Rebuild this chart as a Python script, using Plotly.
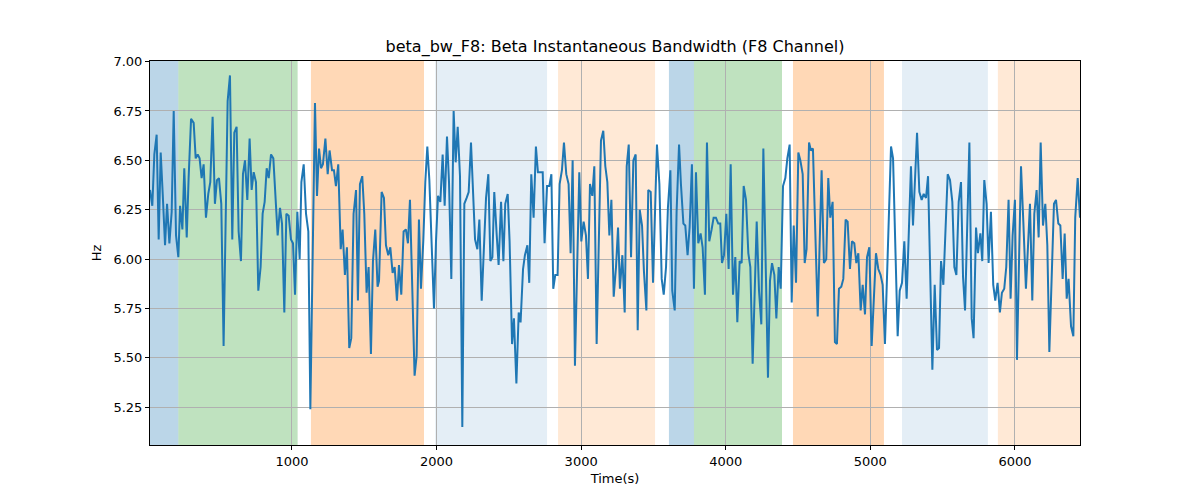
import plotly.graph_objects as go

times = [18, 34, 48, 64, 78, 92, 106, 122, 136, 152, 168, 182, 198, 214, 226, 242, 255, 272, 285, 302,
         320, 334, 348, 361, 375, 389, 405, 421, 435, 451, 467, 481, 495, 511, 527, 541, 555, 571, 587, 601,
         617, 631, 647, 661, 675, 691, 707, 721, 735, 751, 767,
         783, 797, 811, 825, 839, 855, 871, 885, 901, 917, 931, 947, 961, 977, 993, 1007, 1021, 1037, 1053, 1065,
         1081, 1097, 1113, 1127, 1159, 1173, 1187, 1201, 1214, 1231, 1247, 1260, 1277, 1290, 1304, 1320, 1337, 1350, 1366, 1380,
         1396, 1410, 1426, 1443, 1456, 1470, 1486, 1500, 1516, 1530, 1546, 1560, 1576, 1592,
         1602, 1620, 1636, 1650, 1666, 1680, 1696, 1710, 1726, 1740, 1756, 1772, 1788, 1802, 1816, 1832, 1848, 1862, 1878, 1892,
         1908, 1922, 1936, 1950, 1982, 1996, 2010, 2026, 2042, 2056, 2072, 2086, 2102, 2118, 2132, 2146, 2162, 2178, 2192, 2208,
         2222, 2238, 2252, 2266, 2282, 2296, 2312, 2325, 2342, 2358, 2372, 2386,
         2399, 2416, 2429, 2446, 2462, 2475, 2492, 2505, 2522, 2535, 2552, 2568, 2581, 2598, 2611, 2628, 2641, 2655, 2671, 2687,
         2701, 2717, 2734, 2747, 2764, 2780, 2794, 2807, 2821, 2837, 2851, 2867, 2881, 2897, 2913, 2927, 2941, 2957, 2987, 3001,
         3017, 3033, 3047, 3061, 3077, 3091, 3107, 3137, 3153, 3167, 3181, 3195,
         3209, 3225, 3241, 3255, 3268, 3285, 3301, 3315, 3329, 3345, 3361, 3377, 3391, 3405, 3421, 3434, 3451, 3464, 3481, 3497,
         3524, 3541, 3557, 3571, 3587, 3600, 3617, 3630, 3647, 3660, 3677, 3690, 3707, 3720, 3736, 3750, 3766, 3780, 3794, 3810,
         3826, 3840, 3856, 3870, 3886, 3902, 3916, 3932, 3948, 3962,
         3974, 3988, 4004, 4020, 4034, 4050, 4066, 4080, 4096, 4110, 4124, 4140, 4156, 4170, 4186, 4214, 4230, 4246, 4260, 4292,
         4306, 4320, 4336, 4350, 4366, 4380, 4396, 4412, 4426, 4442, 4456, 4470, 4486, 4502, 4516, 4532, 4546, 4559, 4576, 4589,
         4603, 4636, 4663, 4679, 4695, 4709, 4723, 4739, 4755, 4769,
         4783, 4799, 4813, 4829, 4843, 4859, 4873, 4889, 4903, 4917, 4933, 4947, 4963, 4977, 4993, 5009, 5039, 5055, 5071, 5085,
         5101, 5143, 5157, 5189, 5203, 5219, 5235, 5251, 5281, 5295, 5323, 5339, 5355, 5369, 5385, 5399, 5429, 5445, 5461, 5475,
         5489, 5505, 5535, 5551,
         5567, 5581, 5595, 5611, 5627, 5641, 5655, 5685, 5701, 5714, 5731, 5744, 5761, 5774, 5788, 5804, 5818, 5834, 5850, 5864,
         5880, 5896, 5910, 5926, 5940, 5956, 5970, 5984, 6000, 6014, 6042, 6058, 6076, 6090, 6104, 6120, 6134, 6150, 6164, 6178,
         6194, 6210, 6224, 6238, 6270, 6284, 6300, 6314, 6330, 6344, 6358, 6371, 6388, 6404, 6417, 6434, 6450]

values = [6.35, 6.27, 6.53, 6.63, 6.10, 6.54, 6.33, 6.07, 6.28, 6.08, 6.24, 6.75, 6.12, 6.01, 6.27, 6.15, 6.46, 6.11, 6.41, 6.71,
          6.69, 6.51, 6.53, 6.51, 6.41, 6.48, 6.21, 6.33, 6.39, 6.72, 6.28, 6.40, 6.41, 6.28, 5.56, 6.26, 6.80, 6.93, 6.10, 6.64,
          6.67, 6.14, 5.99, 6.43, 6.50, 6.30, 6.61, 6.35, 6.44, 6.39, 5.84,
          5.96, 6.23, 6.29, 6.46, 6.41, 6.53, 6.51, 6.33, 6.12, 6.26, 6.18, 5.73, 6.23, 6.22, 6.10, 6.08, 5.82, 6.24, 6.00, 6.39,
          6.48, 6.23, 6.14, 5.24, 6.79, 6.32, 6.56, 6.46, 6.48, 6.61, 6.43, 6.55, 6.45, 6.45, 6.37, 6.48, 6.05, 6.15, 5.92, 6.06,
          5.55, 5.60, 6.23, 6.35, 5.79, 6.38, 6.42, 6.23, 5.83, 5.96, 5.52, 5.99, 6.15, 5.86,
          5.89, 6.34, 6.31, 6.07, 6.02, 6.06, 5.93, 5.96, 5.79, 5.97, 5.82, 6.14, 6.15, 6.08, 6.30, 5.85, 5.41, 5.51, 6.20, 5.85,
          6.09, 6.39, 6.57, 6.40, 5.75, 6.09, 6.32, 6.29, 6.53, 6.27, 6.62, 6.39, 5.90, 6.75, 6.49, 6.67, 6.42, 5.15, 6.28, 6.31,
          6.34, 6.59, 6.36, 6.10, 6.05, 6.20, 5.79, 6.04, 6.31, 6.43, 5.99, 6.01,
          6.34, 6.12, 5.97, 6.29, 5.99, 6.28, 6.33, 6.09, 5.57, 5.70, 5.37, 5.73, 5.68, 5.95, 6.02, 6.07, 5.88, 6.43, 6.21, 6.57,
          6.44, 6.44, 6.44, 6.08, 6.37, 6.37, 6.43, 5.85, 5.92, 5.92, 6.38, 6.45, 6.59, 6.43, 6.38, 6.03, 6.50, 5.46, 6.44, 6.09,
          6.19, 6.12, 5.90, 6.38, 6.32, 6.47, 5.57, 6.60, 6.65, 6.47, 6.39, 6.12,
          6.30, 5.81, 5.96, 6.16, 5.85, 6.02, 5.73, 6.47, 6.58, 6.01, 6.50, 6.53, 5.64, 6.25, 6.17, 5.94, 5.74, 6.35, 6.34, 5.88,
          6.58, 6.38, 5.90, 5.82, 5.96, 6.26, 6.45, 5.84, 5.74, 6.24, 6.58, 6.38, 6.18, 6.17, 6.02, 6.16, 6.48, 5.85, 6.44, 6.08,
          6.13, 6.06, 5.82, 6.59, 6.09, 6.15, 6.21, 6.21, 6.18, 6.18,
          5.98, 6.02, 6.23, 5.95, 6.48, 5.82, 6.01, 5.68, 5.99, 5.98, 6.37, 6.30, 6.03, 5.96, 5.47, 6.19, 5.84, 5.67, 6.56, 5.40,
          5.89, 5.98, 5.92, 5.70, 5.96, 5.85, 6.37, 6.41, 6.51, 6.58, 5.78, 6.17, 5.88, 6.54, 6.50, 6.43, 5.98, 6.05, 6.59, 6.55,
          6.56, 5.71, 6.45, 5.98, 6.00, 6.41, 6.21, 6.29, 5.58, 5.57,
          5.85, 5.86, 5.90, 6.20, 6.19, 5.95, 6.09, 6.08, 5.98, 6.03, 5.74, 5.87, 5.72, 6.01, 6.06, 5.56, 6.03, 5.95, 5.92, 5.87,
          5.57, 6.57, 6.51, 5.61, 5.84, 5.88, 6.09, 5.80, 6.47, 6.17, 6.64, 6.34, 6.30, 6.33, 6.31, 6.42, 5.44, 5.87, 5.54, 5.55,
          5.99, 5.87, 6.43, 6.40,
          6.29, 5.96, 5.92, 6.29, 6.39, 5.91, 5.74, 6.59, 5.70, 5.60, 6.16, 6.03, 6.13, 5.99, 6.40, 6.28, 5.98, 6.24, 5.87, 5.79,
          5.88, 5.73, 5.83, 5.85, 5.96, 6.30, 5.80, 6.12, 6.30, 5.49, 6.47, 6.19, 5.85, 6.06, 6.28, 5.79, 6.23, 6.35, 6.11, 6.59,
          6.17, 6.28, 6.07, 5.53, 6.28, 6.30, 6.18, 6.17, 5.90, 6.13, 5.80, 5.90, 5.66, 5.61, 6.21, 6.41, 6.21]

# shaded segments: (start, end, color)
seg_starts = [18, 214, 1131, 1991, 2840, 3607, 3780, 4465, 5219, 5882]
seg_ends = [214, 1039, 1913, 2764, 3511, 3780, 4389, 5094, 5813, 6450]
seg_colors = ["rgba(31,119,180,0.3)", "rgba(44,160,44,0.3)", "rgba(255,127,14,0.3)",
              "rgba(31,119,180,0.12)", "rgba(255,127,14,0.17)",
              "rgba(31,119,180,0.3)", "rgba(44,160,44,0.3)", "rgba(255,127,14,0.3)",
              "rgba(31,119,180,0.12)", "rgba(255,127,14,0.17)"]

y_ticks = [5.25, 5.50, 5.75, 6.00, 6.25, 6.50, 6.75, 7.00]
x_ticks = [1000, 2000, 3000, 4000, 5000, 6000]

fig = go.Figure()
for s, e, c in zip(seg_starts, seg_ends, seg_colors):
    fig.add_vrect(x0=s, x1=e, fillcolor=c, line_width=0, layer="below")

fig.add_trace(go.Scatter(x=times, y=values, mode="lines",
                         line=dict(color="#1f77b4", width=2), showlegend=False))

font = "DejaVu Sans, Verdana, sans-serif"
fig.update_layout(
    width=1200, height=500,
    margin=dict(l=150, r=120, t=61, b=55),
    paper_bgcolor="white", plot_bgcolor="white",
    font=dict(family=font, size=13, color="black"),
    title=dict(text="beta_bw_F8: Beta Instantaneous Bandwidth (F8 Channel)",
               x=0.5125, xanchor="center", y=1 - 46 / 500, yanchor="middle",
               font=dict(size=16, family=font, color="black")),
)
fig.update_xaxes(range=[18, 6450], tickvals=x_ticks, ticktext=[str(v) for v in x_ticks],
                 showgrid=True, gridcolor="#b0b0b0", gridwidth=1,
                 showline=True, linecolor="black", linewidth=1, mirror=True,
                 ticks="outside", ticklen=4, tickcolor="black", zeroline=False,
                 title=dict(text="Time(s)", standoff=6, font=dict(size=13)))
fig.update_yaxes(range=[5.059, 7.003], tickvals=y_ticks, ticktext=[f"{v:.2f}" for v in y_ticks],
                 showgrid=True, gridcolor="#b0b0b0", gridwidth=1,
                 showline=True, linecolor="black", linewidth=1, mirror=True,
                 ticks="outside", ticklen=4, tickcolor="black", zeroline=False,
                 title=dict(text="Hz", standoff=8, font=dict(size=13)))

fig.write_html("out.html")
